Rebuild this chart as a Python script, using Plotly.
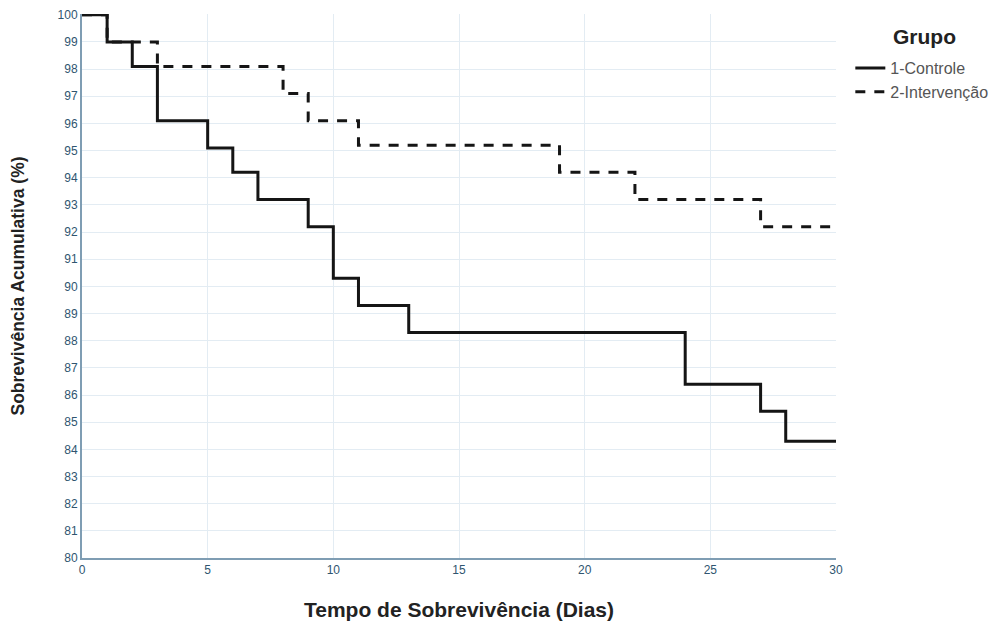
import plotly.graph_objects as go

# Kaplan-Meier step data (time in days, cumulative survival %)
controle_t = [0, 1, 2, 3, 5, 6, 7, 9, 10, 11, 13, 24, 27, 28, 30]
controle_s = [100, 99.0, 98.1, 96.1, 95.1, 94.2, 93.2, 92.2, 90.3, 89.3, 88.3, 86.4, 85.4, 84.3, 84.3]

intervencao_t = [0, 1, 3, 8, 9, 11, 19, 22, 27, 30]
intervencao_s = [100, 99.0, 98.1, 97.1, 96.1, 95.2, 94.2, 93.2, 92.2, 92.2]

x_ticks = [0, 5, 10, 15, 20, 25, 30]
y_ticks = list(range(80, 101))

fig = go.Figure()
fig.add_trace(go.Scatter(
    x=controle_t, y=controle_s, mode="lines", name="1-Controle",
    line=dict(shape="hv", color="#151515", width=3),
))
fig.add_trace(go.Scatter(
    x=intervencao_t, y=intervencao_s, mode="lines", name="2-Intervenção",
    line=dict(shape="hv", color="#151515", width=3, dash="10px,9px"),
))

tickfont = dict(family="Liberation Sans, Arial, sans-serif", size=12, color="#2f5570")

fig.add_annotation(
    text="<b>Grupo</b>", xref="paper", yref="paper", x=1.118, y=0.958,
    xanchor="center", yanchor="middle", showarrow=False,
    font=dict(size=21, color="#222222"),
)

fig.update_layout(
    width=999, height=626,
    margin=dict(l=74, r=171, t=6, b=76),
    paper_bgcolor="white", plot_bgcolor="white",
    font=dict(family="Liberation Sans, Arial, sans-serif"),
    showlegend=True,
    legend=dict(
        x=1.019, y=0.932, xanchor="left", yanchor="top",
        font=dict(size=16, color="#555555"),
        itemwidth=30, tracegroupgap=0,
        bgcolor="rgba(0,0,0,0)",
    ),
    xaxis=dict(
        range=[0, 30], tickvals=x_ticks, ticktext=[str(v) for v in x_ticks],
        showgrid=True, gridcolor="#e3ecf3", gridwidth=1,
        showline=True, linecolor="#7f9db3", linewidth=2,
        zeroline=False, ticks="", tickfont=tickfont, automargin=False,
        title=dict(text="<b>Tempo de Sobrevivência (Dias)</b>",
                   font=dict(size=21, color="#222222"), standoff=26),
    ),
    yaxis=dict(
        range=[80, 100.03], tickvals=y_ticks, ticktext=[str(v) for v in y_ticks],
        showgrid=True, gridcolor="#e3ecf3", gridwidth=1,
        showline=True, linecolor="#7f9db3", linewidth=2,
        zeroline=False, ticks="", tickfont=tickfont, automargin=False,
        title=dict(text="<b>Sobrevivência Acumulativa (%)</b>",
                   font=dict(size=17.5, color="#222222"), standoff=28),
    ),
)

fig.write_html("out.html")
